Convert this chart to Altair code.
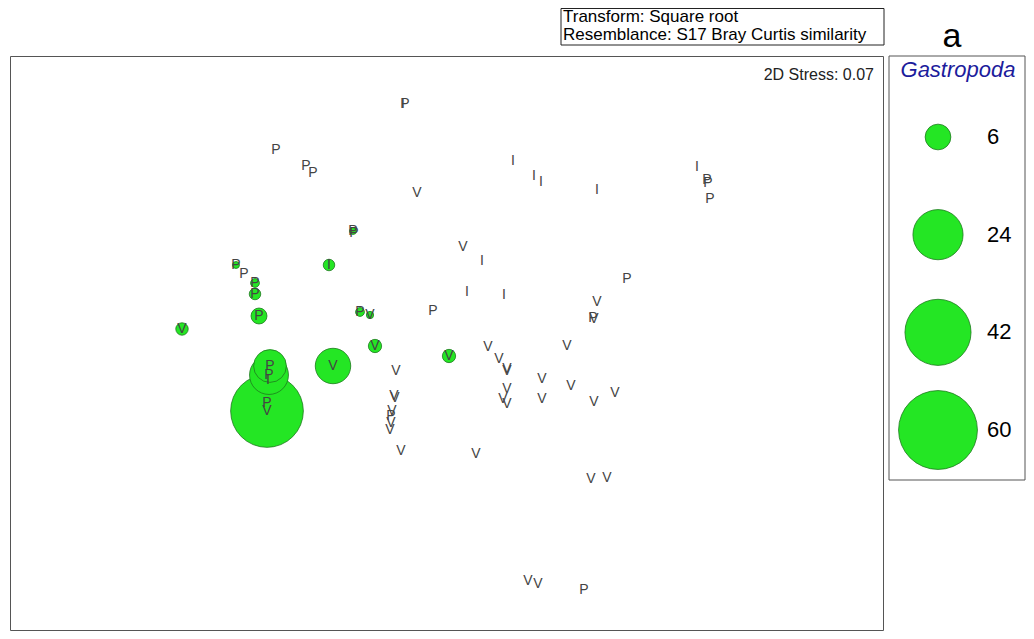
import altair as alt
import pandas as pd

# nMDS ordination (arbitrary MDS units) -- group label, x, y, Gastropoda abundance
labels = ["I", "P", "P", "P", "P", "V", "I", "I", "I", "I", "I", "P", "P", "P",
          "P", "P", "I", "V", "I", "I", "I", "P", "P", "V", "P", "V",
          "P", "P", "P", "P", "P", "V", "P", "V", "V", "V",
          "P", "P", "I", "P", "V", "V",
          "V", "V", "V", "V", "P", "V", "V", "V",
          "V", "V", "V", "V", "V", "V", "V", "V", "V", "V", "V", "V", "V", "V", "V", "V",
          "V", "V", "P"]
mds_x = [-0.43, -0.41, -1.70, -1.40, -1.33, -0.29, 0.67, 0.88, 0.95, 1.51, 2.51, 2.61, 2.62, 2.64,
         -0.93, -0.92, -1.17, 0.17, 0.36, 0.21, 0.58, -0.13, 1.81, 1.51, 1.47, 1.48,
         -2.10, -2.02, -1.91, -1.91, -1.87, -2.64, -0.86, -0.76, -0.71, 0.03,
         -1.76, -1.77, -1.78, -1.79, -1.79, -1.13,
         -0.50, -0.52, -0.51, -0.54, -0.55, -0.55, -0.56, -0.45,
         0.42, 0.53, 0.61, 0.61, 0.61, 0.57, 0.61, 0.96, 0.96, 1.21, 1.25, 1.48, 1.69, 0.30, 1.45, 1.61,
         0.82, 0.92, 1.38]
mds_y = [2.42, 2.42, 1.96, 1.80, 1.73, 1.53, 1.85, 1.70, 1.64, 1.56, 1.79, 1.66, 1.63, 1.47,
         1.15, 1.13, 0.81, 0.99, 0.85, 0.54, 0.51, 0.35, 0.67, 0.44, 0.28, 0.27,
         0.81, 0.72, 0.63, 0.52, 0.30, 0.17, 0.34, 0.31, 0.00, -0.10,
         -0.20, -0.29, -0.34, -0.57, -0.65, -0.20,
         -0.25, -0.50, -0.52, -0.65, -0.70, -0.77, -0.84, -1.05,
         -0.01, -0.13, -0.23, -0.25, -0.43, -0.53, -0.58, -0.33, -0.53, 0.00, -0.40, -0.56, -0.47, -1.08, -1.33, -1.32,
         -2.35, -2.38, -2.44]
gastropoda = [0, 0, 0, 0, 0, 0, 0, 0, 0, 0, 0, 0, 0, 0,
              0.05, 0, 0.87, 0, 0, 0, 0, 0, 0, 0, 0, 0,
              0.05, 0, 0.34, 0.87, 2.05, 1.08, 0.34, 0.1, 1.3, 1.3,
              10.0, 14.3, 0, 0, 50.9, 11.8,
              0, 0, 0, 0, 0, 0, 0, 0,
              0, 0, 0, 0, 0, 0, 0, 0, 0, 0, 0, 0, 0, 0, 0, 0,
              0, 0, 0]

legend_values = [6, 24, 42, 60]
legend_text = ["6", "24", "42", "60"]
info_lines = ["Transform: Square root", "Resemblance: S17 Bray Curtis similarity"]
stress_text = "2D Stress: 0.07"
legend_title = "Gastropoda"
panel_letter = "a"

df = pd.DataFrame({"label": labels, "x": mds_x, "y": mds_y, "gastro": gastropoda})
bub = df[df["gastro"] > 0].sort_values("gastro", ascending=False).reset_index(drop=True)
bub["order"] = range(len(bub))
leg = pd.DataFrame({"val": legend_values, "txt": legend_text})

W, H = 873, 574
FONT = "Liberation Sans"

xs = alt.Scale(domain=[-4.36, 4.37], nice=False, zero=False)
ys = alt.Scale(domain=[-2.84, 2.90], nice=False, zero=False)
ss = alt.Scale(domain=[0, 60], range=[43, 6221])

bubbles = alt.Chart(bub).mark_circle(
    color="#24E624", opacity=1, stroke="#1E7A1E", strokeWidth=0.8
).encode(
    x=alt.X("x:Q", scale=xs, axis=None),
    y=alt.Y("y:Q", scale=ys, axis=None),
    size=alt.Size("gastro:Q", scale=ss, legend=None),
    order=alt.Order("order:Q"),
)

letters = alt.Chart(df).mark_text(
    font=FONT, fontSize=14, color="#444444", align="center", baseline="middle"
).encode(
    x=alt.X("x:Q", scale=xs, axis=None),
    y=alt.Y("y:Q", scale=ys, axis=None),
    text="label:N",
)

main = alt.layer(bubbles, letters)

leg_y = alt.Scale(domain=[6, 60], range=[81, 374], zero=False, nice=False)
leg_circles = alt.Chart(leg).mark_circle(
    color="#24E624", opacity=1, stroke="#1E7A1E", strokeWidth=0.8
).encode(
    x=alt.value(928),
    y=alt.Y("val:Q", scale=leg_y, axis=None),
    size=alt.Size("val:Q", scale=ss, legend=None),
)
leg_labels = alt.Chart(leg).mark_text(
    font=FONT, fontSize=22, color="black", align="left", baseline="middle"
).encode(
    x=alt.value(977),
    y=alt.Y("val:Q", scale=leg_y, axis=None),
    text="txt:N",
)
legend = alt.layer(leg_circles, leg_labels)

one = pd.DataFrame({"k": [0]})
legend_box = alt.Chart(one).mark_rect(filled=False, stroke="#555555", strokeWidth=1).encode(
    x=alt.value(879), x2=alt.value(1015), y=alt.value(0), y2=alt.value(424)
)
title_txt = alt.Chart(one).mark_text(
    text=legend_title, font=FONT, fontSize=22, fontStyle="italic", color="#1c1c9c",
    align="center", baseline="middle"
).encode(x=alt.value(948), y=alt.value(14))

info_box = alt.Chart(one).mark_rect(filled=False, stroke="#222222", strokeWidth=1).encode(
    x=alt.value(551), x2=alt.value(874), y=alt.value(-47.5), y2=alt.value(-11)
)
info_df = pd.DataFrame({"t": info_lines, "row": [0, 1]})
info_txt = alt.Chart(info_df).mark_text(
    font=FONT, fontSize=17, color="black", align="left", baseline="alphabetic"
).encode(
    x=alt.value(553),
    y=alt.Y("row:Q", scale=alt.Scale(domain=[0, 1], range=[-34.5, -16]), axis=None),
    text="t:N",
)
stress = alt.Chart(one).mark_text(
    text=stress_text, font=FONT, fontSize=16, color="#222222", align="right", baseline="alphabetic"
).encode(x=alt.value(864), y=alt.value(24))
letter_a = alt.Chart(one).mark_text(
    text=panel_letter, font=FONT, fontSize=34, color="black", align="center", baseline="alphabetic"
).encode(x=alt.value(942), y=alt.value(-9))

chart = alt.layer(
    main, legend, legend_box, title_txt, info_box, info_txt, stress, letter_a
).resolve_scale(y="independent").properties(
    width=W, height=H,
    padding={"left": 2, "top": 48, "right": 143, "bottom": 1},
    autosize=alt.AutoSizeParams(type="none"),
    background="white",
).configure_view(stroke="#555555", strokeWidth=1)

chart.save("out.html", embed_options={"renderer": "svg", "actions": False})
